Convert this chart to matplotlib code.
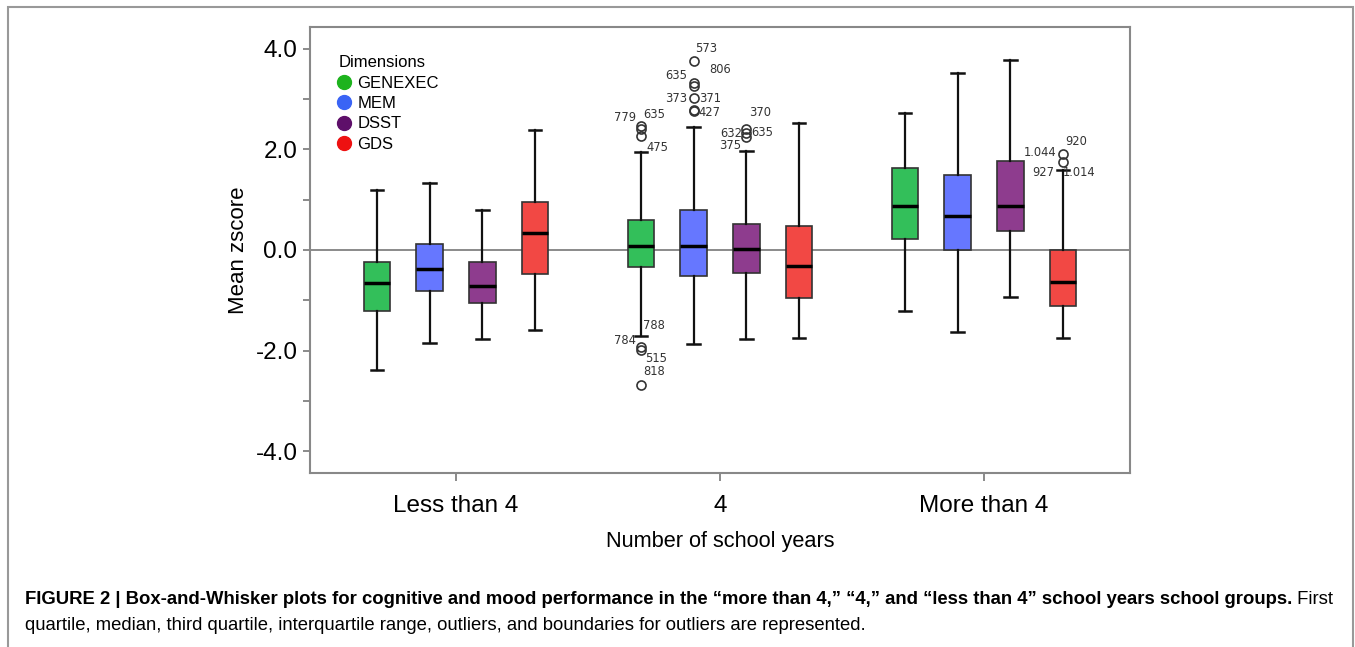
import matplotlib
matplotlib.use("Agg")
import matplotlib.pyplot as plt
from matplotlib.lines import Line2D
from matplotlib.patches import Rectangle

plt.rcParams['font.family'] = ['Liberation Sans', 'DejaVu Sans']

# data
groups = ["Less than 4", "4", "More than 4"]
dims = ["GENEXEC", "MEM", "DSST", "GDS"]

whishi = [[1.19, 1.33, 0.80, 2.38], [1.94, 2.45, 1.97, 2.53], [2.72, 3.52, 3.77, 1.58]]
q3 = [[-0.24, 0.12, -0.24, 0.96], [0.60, 0.79, 0.52, 0.47], [1.63, 1.48, 1.76, 0.00]]
med = [[-0.66, -0.37, -0.72, 0.33], [0.07, 0.07, 0.02, -0.32], [0.87, 0.68, 0.87, -0.64]]
q1 = [[-1.21, -0.81, -1.06, -0.47], [-0.34, -0.52, -0.45, -0.95], [0.22, 0.00, 0.38, -1.11]]
whislo = [[-2.39, -1.85, -1.76, -1.58], [-1.71, -1.87, -1.77, -1.74], [-1.21, -1.62, -0.94, -1.74]]

fliers = [[[], [], [], []],
          [[2.46, 2.40, 2.26, -1.93, -1.99, -2.69],
           [3.76, 3.32, 3.26, 3.01, 2.79, 2.77],
           [2.41, 2.32, 2.25],
           []],
          [[], [], [], [1.91, 1.74]]]

# outlier case numbers: (group, dim, value, label)
out_labels = [
    (1, 0, 2.46, "779"), (1, 0, 2.46, "635"), (1, 0, 2.26, "475"),
    (1, 0, -1.93, "788"), (1, 0, -1.93, "784"), (1, 0, -1.99, "515"), (1, 0, -2.69, "818"),
    (1, 1, 3.76, "573"), (1, 1, 3.32, "806"), (1, 1, 3.26, "635"),
    (1, 1, 3.01, "373"), (1, 1, 3.01, "371"), (1, 1, 2.79, "427"),
    (1, 2, 2.41, "370"), (1, 2, 2.32, "632"), (1, 2, 2.32, "635"), (1, 2, 2.25, "375"),
    (2, 3, 1.91, "920"), (2, 3, 1.91, "1.044"), (2, 3, 1.74, "927"), (2, 3, 1.74, "1.014"),
]
# label offsets in pixels (dx, dy up)
out_offsets = [(-16, 9), (13, 12), (17, -11),
               (13, 22), (-16, 7), (15, -8), (13, 14),
               (13, 12), (27, 13), (-17, 10),
               (-17, 0), (16, 0), (16, -3),
               (14, 16), (-15, 0), (16, 1), (-16, -9),
               (13, 12), (-23, 1), (-20, -10), (16, -10)]

box_colors = ["#33bf5a", "#6677ff", "#8e3c8e", "#f24844"]
dot_colors = ["#1db31d", "#3a64f5", "#5e0f6a", "#ee1111"]
offsets = [-0.3, -0.1, 0.1, 0.3]

fig = plt.figure(figsize=(13.55, 6.47), dpi=100)
ax = fig.add_axes([310 / 1355, 1 - 473 / 647, 820 / 1355, 446 / 647])

ax.axhline(0, color="#777777", lw=1.2, zorder=1)

for g in range(3):
    stats = []
    pos = []
    for d in range(4):
        stats.append(dict(med=med[g][d], q1=q1[g][d], q3=q3[g][d],
                          whislo=whislo[g][d], whishi=whishi[g][d], fliers=fliers[g][d]))
        pos.append(g + offsets[d])
    bp = ax.bxp(stats, positions=pos, widths=0.1, capwidths=0.047, patch_artist=True,
                boxprops=dict(edgecolor="#333333", linewidth=1.2),
                medianprops=dict(color="black", linewidth=2.5),
                whiskerprops=dict(color="#111111", linewidth=1.6),
                capprops=dict(color="#111111", linewidth=1.8),
                flierprops=dict(marker="o", markerfacecolor="none", markeredgecolor="#333333",
                                markersize=6.5, markeredgewidth=1.2),
                manage_ticks=False)
    for patch, c in zip(bp["boxes"], box_colors):
        patch.set_facecolor(c)
        patch.set_zorder(2)

for (g, d, v, lab), (dx, dy) in zip(out_labels, out_offsets):
    ax.annotate(lab, (g + offsets[d], v), xytext=(dx, dy), textcoords="offset pixels",
                ha="center", va="center", fontsize=8.3, color="#333333", family="DejaVu Sans")

ax.set_xlim(-0.553, 2.553)
ax.set_ylim(-4.43, 4.43)
ax.set_xticks(range(3))
ax.set_xticklabels(groups, fontsize=17.5)
ax.set_yticks([-4, -2, 0, 2, 4])
ax.set_yticklabels(["-4.0", "-2.0", "0.0", "2.0", "4.0"], fontsize=17.5)
ax.set_yticks([-3, -1, 1, 3], minor=True)
ax.tick_params(axis="y", which="both", length=5, width=1.2, color="#777777", pad=4)
ax.tick_params(axis="x", length=6, width=1.2, color="#777777", pad=10)
for s in ax.spines.values():
    s.set_color("#888888")
    s.set_linewidth(1.5)

ax.set_ylabel("Mean zscore", fontsize=16, labelpad=5)
ax.set_xlabel("Number of school years", fontsize=15.7, labelpad=10)

handles = [Line2D([], [], marker="o", ls="none", color=c, markersize=10) for c in dot_colors]
leg = ax.legend(handles, dims, title="Dimensions", loc="upper left",
                bbox_to_anchor=(0.025, 0.955), frameon=False, fontsize=12, title_fontsize=12,
                handlelength=0.6, handletextpad=0.5, labelspacing=0.32, borderpad=0,
                alignment="left")

# figure frame
fig.patches.append(Rectangle((8 / 1355, -0.01), 1346 / 1355 - 0.001, 1 - 7 / 647 + 0.01,
                             transform=fig.transFigure, fill=False, edgecolor="#999999",
                             lw=1.5))

t1 = fig.text(25 / 1355, 1 - 600 / 647,
              "FIGURE 2 | Box-and-Whisker plots for cognitive and mood performance in the "
              "\u201cmore than 4,\u201d \u201c4,\u201d and \u201cless than 4\u201d school years school groups.",
              fontsize=13.3, fontweight="bold", va="center", ha="left")
fig.canvas.draw()
bb = t1.get_window_extent()
fig.text(bb.x1 / 1355, 1 - 600 / 647, " First", fontsize=13.3, va="center", ha="left")
fig.text(25 / 1355, 1 - 625 / 647,
         "quartile, median, third quartile, interquartile range, outliers, and boundaries for outliers are represented.",
         fontsize=13.3, va="center", ha="left")

fig.savefig("out.png", dpi=100)
